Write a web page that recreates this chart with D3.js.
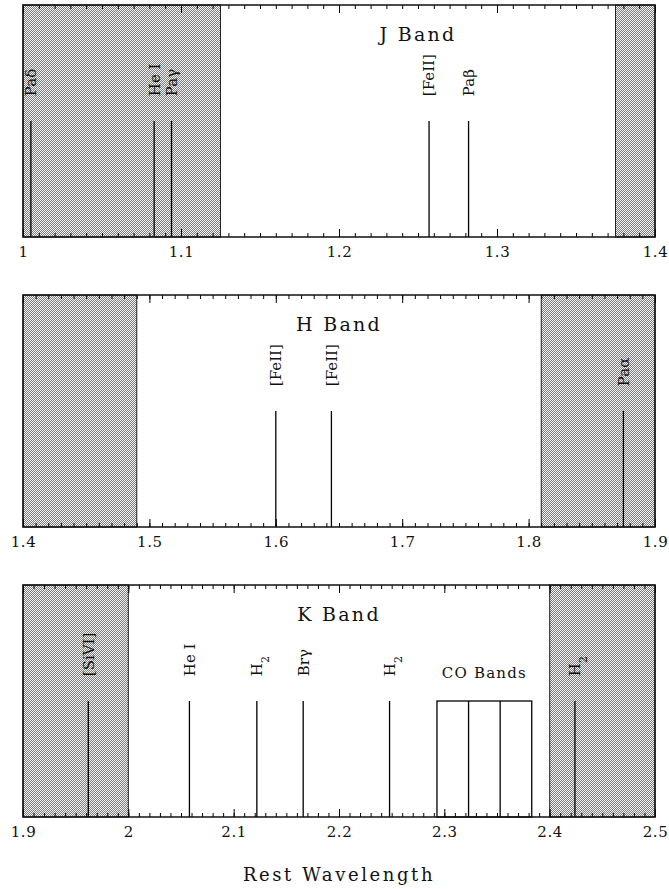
<!DOCTYPE html>
<html>
<head>
<meta charset="utf-8">
<script src="https://cdn.jsdelivr.net/npm/d3@7"></script>
<style>
  html, body { margin: 0; padding: 0; background: #fff; }
  svg { display: block; }
  text { font-family: "DejaVu Serif", "Liberation Serif", serif; fill: #111; }
</style>
</head>
<body>
<svg id="chart" width="669" height="889"></svg>
<script>
// ---------------- data ----------------
const bandNames = ["J Band", "H Band", "K Band"];
const xDomains = [[1.0, 1.4], [1.4, 1.9], [1.9, 2.5]];
const windows = [[1.125, 1.375], [1.49, 1.81], [2.0, 2.4]];
const majorTicks = [
  [1.0, 1.1, 1.2, 1.3, 1.4],
  [1.4, 1.5, 1.6, 1.7, 1.8, 1.9],
  [1.9, 2.0, 2.1, 2.2, 2.3, 2.4, 2.5]
];
const minorStep = 0.01;

const jLines = [
  { label: "Paδ", wl: 1.005 },
  { label: "He I", wl: 1.083 },
  { label: "Paγ", wl: 1.094 },
  { label: "[FeII]", wl: 1.257 },
  { label: "Paβ", wl: 1.282 }
];
const hLines = [
  { label: "[FeII]", wl: 1.600 },
  { label: "[FeII]", wl: 1.644 },
  { label: "Paα", wl: 1.875 }
];
const kLines = [
  { label: "[SiVI]", wl: 1.962 },
  { label: "He I", wl: 2.058 },
  { label: "H", sub: "2", wl: 2.122 },
  { label: "Brγ", wl: 2.166 },
  { label: "H", sub: "2", wl: 2.248 },
  { label: "H", sub: "2", wl: 2.424 }
];
const lineSets = [jLines, hLines, kLines];
const coBandEdges = [2.293, 2.323, 2.353, 2.383];
const coLabel = "CO Bands";
const lineHeight = 0.5;      // relative strength of marker lines
const xTitle = "Rest Wavelength";

// ---------------- layout ----------------
const W = 669, H = 889;
const left = 23, right = 655;
const panelTops = [5, 295, 585];
const panelH = 232;
const labelLevel = 0.607;
const titleLevel = 0.845;

const svg = d3.select("#chart");
const defs = svg.append("defs");
const pat = defs.append("pattern")
  .attr("id", "stipple").attr("width", 2).attr("height", 2)
  .attr("patternUnits", "userSpaceOnUse");
pat.append("rect").attr("width", 2).attr("height", 2).attr("fill", "#f4f4f4");
pat.append("rect").attr("x", 0).attr("y", 0).attr("width", 1).attr("height", 1).attr("fill", "#7c7c7c");
pat.append("rect").attr("x", 1).attr("y", 1).attr("width", 1).attr("height", 1).attr("fill", "#7c7c7c");

const fmt = d => String(+(+d).toFixed(1));

bandNames.forEach((name, i) => {
  const g = svg.append("g").attr("transform", `translate(0,${panelTops[i]})`);
  const x = d3.scaleLinear().domain(xDomains[i]).range([left, right]);
  const y = d3.scaleLinear().domain([0, 1]).range([panelH, 0]);
  const [d0, d1] = xDomains[i];
  const [w0, w1] = windows[i];

  // shaded (outside atmospheric window) regions
  const shaded = [[d0, w0], [w1, d1]].filter(s => s[1] > s[0]);
  g.selectAll("rect.shade").data(shaded).join("rect")
    .attr("class", "shade")
    .attr("x", d => x(d[0])).attr("width", d => x(d[1]) - x(d[0]))
    .attr("y", y(1)).attr("height", y(0) - y(1))
    .attr("fill", "url(#stipple)")
    .attr("stroke", "#222").attr("stroke-width", 1);

  // line markers
  const lines = lineSets[i];
  g.selectAll("line.mark").data(lines).join("line")
    .attr("class", "mark")
    .attr("x1", d => x(d.wl)).attr("x2", d => x(d.wl))
    .attr("y1", y(0)).attr("y2", y(lineHeight))
    .attr("stroke", "#000").attr("stroke-width", 1.3);

  // labels (rotated)
  const lbl = g.selectAll("text.lbl").data(lines).join("text")
    .attr("class", "lbl")
    .attr("transform", d => `translate(${x(d.wl)},${y(labelLevel)}) rotate(-90)`)
    .attr("text-anchor", "start")
    .attr("dy", "0.36em")
    .attr("font-size", 15);
  lbl.append("tspan").text(d => d.label);
  lbl.filter(d => d.sub).append("tspan")
    .attr("baseline-shift", "sub").attr("font-size", 11)
    .text(d => d.sub);

  // CO bands box
  if (i === 2) {
    const co0 = coBandEdges[0], co1 = coBandEdges[coBandEdges.length - 1];
    g.append("rect")
      .attr("x", x(co0)).attr("width", x(co1) - x(co0))
      .attr("y", y(lineHeight)).attr("height", y(0) - y(lineHeight))
      .attr("fill", "none").attr("stroke", "#000").attr("stroke-width", 1.3);
    g.selectAll("line.co").data(coBandEdges.slice(1, -1)).join("line")
      .attr("class", "co")
      .attr("x1", d => x(d)).attr("x2", d => x(d))
      .attr("y1", y(0)).attr("y2", y(lineHeight))
      .attr("stroke", "#000").attr("stroke-width", 1.3);
    g.append("text")
      .attr("x", x((co0 + co1) / 2)).attr("y", y(labelLevel) + 2)
      .attr("text-anchor", "middle").attr("font-size", 15)
      .attr("letter-spacing", 1.2)
      .text(coLabel);
  }

  // title
  g.append("text")
    .attr("x", x((w0 + w1) / 2)).attr("y", y(titleLevel))
    .attr("text-anchor", "middle").attr("font-size", 19)
    .attr("letter-spacing", 2.3)
    .text(name);

  // axes: minor + major ticks, top and bottom, inward
  const minor = d3.range(Math.round((d1 - d0) / minorStep) + 1).map(k => d0 + k * minorStep);
  const axStyle = sel => {
    sel.select(".domain").remove();
    sel.selectAll(".tick line").attr("stroke", "#000").attr("stroke-width", 1);
  };
  g.append("g").attr("transform", `translate(0,${y(0)})`)
    .call(d3.axisBottom(x).tickValues(minor).tickSize(-4).tickFormat(""))
    .call(axStyle);
  g.append("g").attr("transform", `translate(0,${y(1)})`)
    .call(d3.axisTop(x).tickValues(minor).tickSize(-4).tickFormat(""))
    .call(axStyle);
  g.append("g").attr("transform", `translate(0,${y(1)})`)
    .call(d3.axisTop(x).tickValues(majorTicks[i]).tickSize(-8).tickFormat(""))
    .call(axStyle);
  const bx = g.append("g").attr("transform", `translate(0,${y(0)})`)
    .call(d3.axisBottom(x).tickValues(majorTicks[i]).tickSize(-8).tickPadding(9).tickFormat(fmt))
    .call(axStyle);
  bx.selectAll(".tick text")
    .attr("font-family", "DejaVu Serif").attr("font-size", 15)
    .attr("letter-spacing", 0.6).attr("fill", "#111");

  // frame
  g.append("rect")
    .attr("x", left).attr("y", y(1))
    .attr("width", right - left).attr("height", y(0) - y(1))
    .attr("fill", "none").attr("stroke", "#111").attr("stroke-width", 1.5);
});

svg.append("text")
  .attr("x", (left + right) / 2).attr("y", 881)
  .attr("text-anchor", "middle").attr("font-size", 18)
  .attr("letter-spacing", 2.6)
  .text(xTitle);
</script>
</body>
</html>
